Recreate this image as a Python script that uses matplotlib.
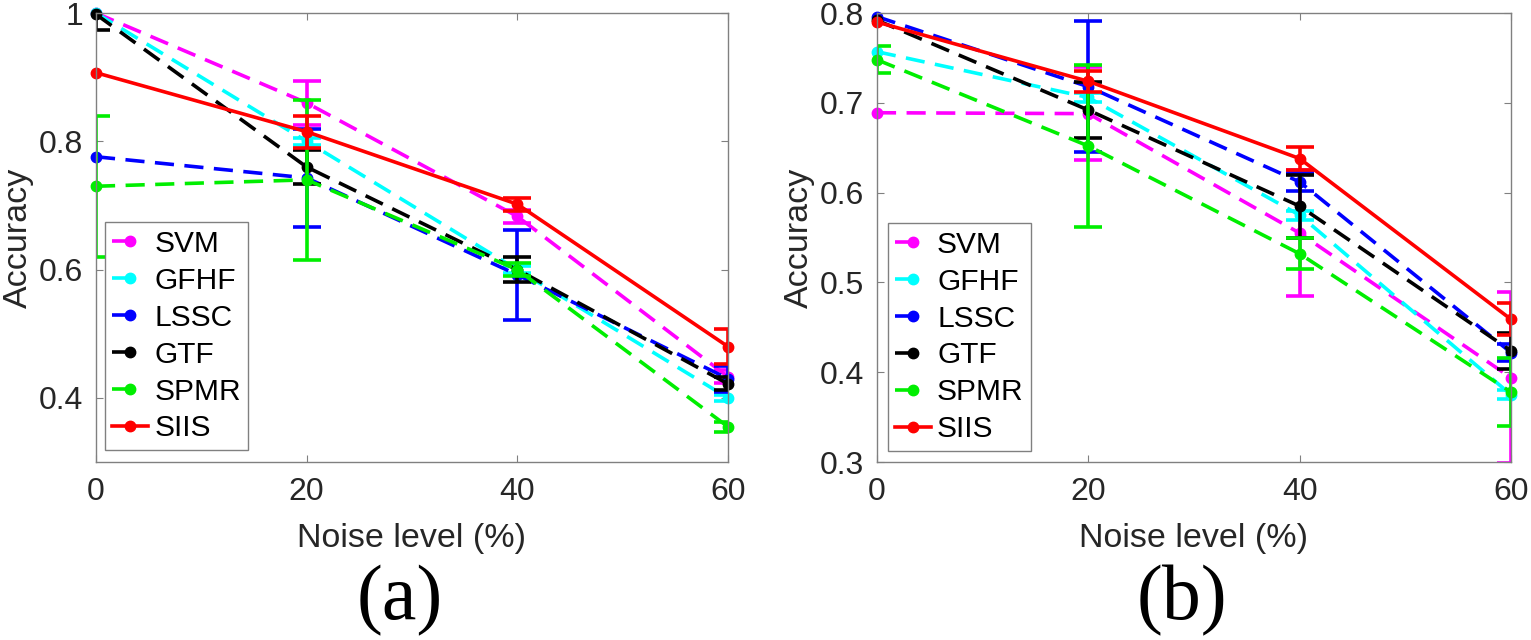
import matplotlib.pyplot as plt
import numpy as np
from matplotlib.lines import Line2D

noise = [0, 20, 40, 60]
methods = ["SVM", "GFHF", "LSSC", "GTF", "SPMR", "SIIS"]
colors = ["#ff00ff", "#00ffff", "#0000ff", "#000000", "#00ee00", "#ff0000"]
styles = ["--", "--", "--", "--", "--", "-"]

# panel (a): means and half-widths of the error bars
acc_a = {
    "SVM":  [1.000, 0.860, 0.683, 0.433],
    "GFHF": [1.000, 0.800, 0.600, 0.400],
    "LSSC": [0.776, 0.743, 0.592, 0.430],
    "GTF":  [0.998, 0.760, 0.600, 0.422],
    "SPMR": [0.730, 0.740, 0.600, 0.355],
    "SIIS": [0.907, 0.815, 0.702, 0.480],
}
err_a = {
    "SVM":  [0.000, 0.034, 0.010, 0.010],
    "GFHF": [0.000, 0.005, 0.005, 0.005],
    "LSSC": [0.000, 0.076, 0.070, 0.020],
    "GTF":  [0.025, 0.027, 0.020, 0.010],
    "SPMR": [0.110, 0.125, 0.010, 0.008],
    "SIIS": [0.000, 0.025, 0.010, 0.027],
}

# panel (b)
acc_b = {
    "SVM":  [0.689, 0.688, 0.555, 0.394],
    "GFHF": [0.757, 0.706, 0.575, 0.375],
    "LSSC": [0.796, 0.718, 0.612, 0.422],
    "GTF":  [0.792, 0.692, 0.585, 0.424],
    "SPMR": [0.748, 0.652, 0.532, 0.378],
    "SIIS": [0.790, 0.724, 0.638, 0.459],
}
err_b = {
    "SVM":  [0.000, 0.052, 0.070, 0.095],
    "GFHF": [0.000, 0.005, 0.005, 0.005],
    "LSSC": [0.000, 0.073, 0.010, 0.010],
    "GTF":  [0.000, 0.031, 0.035, 0.020],
    "SPMR": [0.015, 0.090, 0.017, 0.038],
    "SIIS": [0.000, 0.012, 0.013, 0.018],
}

ylims = [(0.3, 1.0), (0.3, 0.8)]
yticks = [[0.4, 0.6, 0.8, 1.0], [0.3, 0.4, 0.5, 0.6, 0.7, 0.8]]
yticklabels = [["0.4", "0.6", "0.8", "1"], ["0.3", "0.4", "0.5", "0.6", "0.7", "0.8"]]
panels = ["(a)", "(b)"]

plt.rcParams['font.family'] = ['Liberation Sans', 'DejaVu Sans']

fig = plt.figure(figsize=(15.31, 6.4), dpi=100)
ax_a = fig.add_axes([0.0627, 0.278, 0.4128, 0.7016])
ax_b = fig.add_axes([0.5728, 0.278, 0.4141, 0.7016])
legend_pos = [(0.014, 0.027), (0.017, 0.025)]
lw = 2.6

for k, (ax, acc, err) in enumerate([(ax_a, acc_a, err_a), (ax_b, acc_b, err_b)]):
    for i, (name, c, ls) in enumerate(zip(methods, colors, styles)):
        x = np.array(noise)
        y = np.array(acc[name])
        e = np.array(err[name])
        z = 3 + i
        kw = dict(dashes=(5.3, 2.9)) if ls == "--" else {}
        ax.plot(x, y, color=c, linestyle=ls, linewidth=lw, marker='o',
                markersize=7.5, clip_on=False, zorder=z, **kw)
        m = e > 0
        ax.errorbar(x[m], y[m], yerr=e[m], fmt='none', ecolor=c, elinewidth=lw,
                    capsize=10, capthick=lw, zorder=z)
    ax.set_xlim(0, 60)
    ax.set_ylim(*ylims[k])
    ax.set_xticks([0, 20, 40, 60])
    ax.set_yticks(yticks[k])
    ax.set_yticklabels(yticklabels[k])
    ax.tick_params(direction='in', top=True, right=True, labelsize=23,
                   colors='#808080', labelcolor='#262626', length=5)
    ax.tick_params(axis='x', pad=11)
    ax.tick_params(axis='y', pad=9)
    for s in ax.spines.values():
        s.set_color('#808080')
        s.set_linewidth(1.0)
        s.set_zorder(20)
    ax.set_xlabel("Noise level (%)", fontsize=24.5, color='#262626', labelpad=11)
    ax.set_ylabel("Accuracy", fontsize=24.5, color='#262626', labelpad=4)

    # legend keys: dashed series show only the first dash, up to the marker
    handles = []
    for c, ls in zip(colors, styles):
        kw = dict(dashes=(4.8, 30)) if ls == "--" else {}
        handles.append(Line2D([0], [0], color=c, linestyle=ls, linewidth=lw,
                              marker='o', markersize=7.5, **kw))
    leg = ax.legend(handles, methods, loc='lower left', bbox_to_anchor=legend_pos[k],
                    borderaxespad=0, fontsize=21.5, handlelength=1.2, handletextpad=0.2,
                    labelspacing=0.3, fancybox=False, framealpha=1,
                    edgecolor='#808080', borderpad=0.25)
    leg.get_frame().set_linewidth(1.0)
    leg.set_zorder(30)

    pos = ax.get_position()
    fig.text(pos.x0 + pos.width / 2 - 0.008, 0.062, panels[k],
             fontsize=56, family='Liberation Serif', ha='center', va='center')

fig.savefig("out.png", dpi=100)
